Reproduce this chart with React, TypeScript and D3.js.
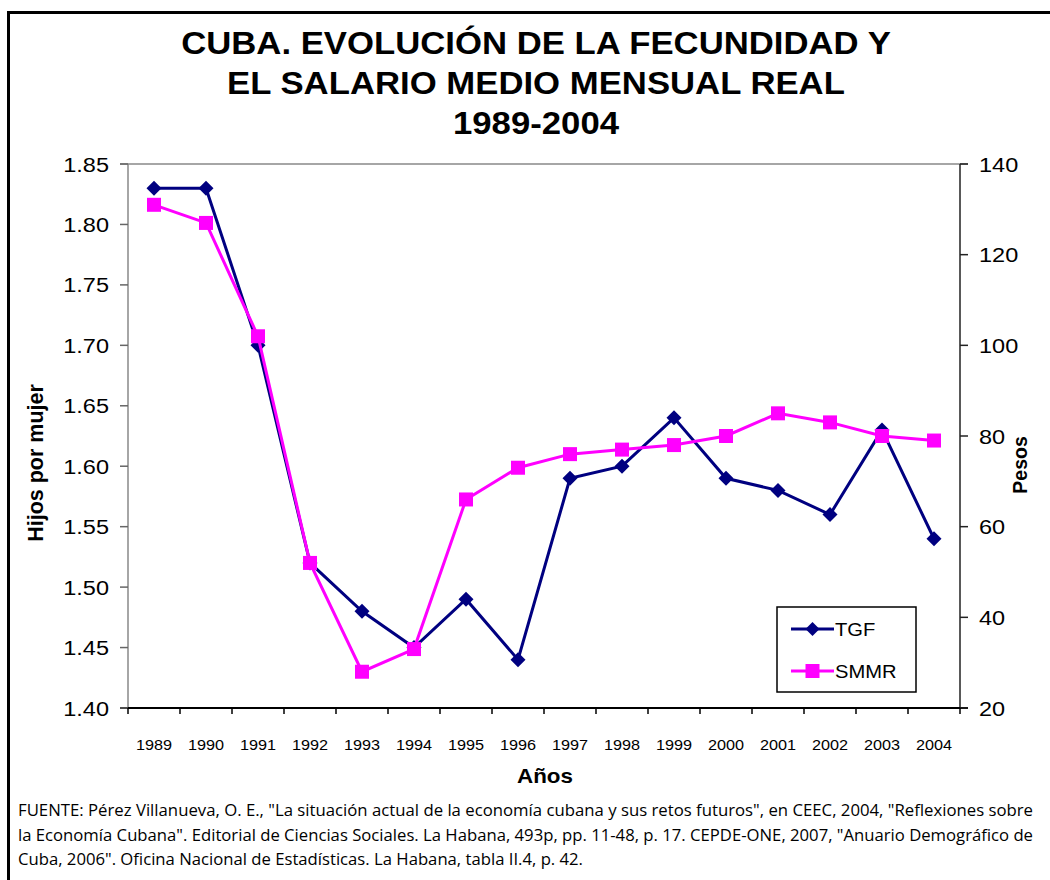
import React from "react";
import * as d3 from "d3";

const years = ["1989","1990","1991","1992","1993","1994","1995","1996","1997","1998","1999","2000","2001","2002","2003","2004"];
const tgf = [1.83,1.83,1.70,1.52,1.48,1.45,1.49,1.44,1.59,1.60,1.64,1.59,1.58,1.56,1.63,1.54];
const smmr = [131,127,102,52,28,33,66,73,76,77,78,80,85,83,80,79];
const leftTicks = [1.40,1.45,1.50,1.55,1.60,1.65,1.70,1.75,1.80,1.85];
const rightTicks = [20,40,60,80,100,120,140];
const titleLines = ["CUBA. EVOLUCIÓN DE LA FECUNDIDAD Y","EL SALARIO MEDIO MENSUAL REAL","1989-2004"];
const sourceLines = [
  "FUENTE: Pérez Villanueva, O. E., \"La situación actual de la economía cubana y sus retos futuros\", en CEEC, 2004, \"Reflexiones sobre",
  "la Economía Cubana\". Editorial de Ciencias Sociales. La Habana, 493p, pp. 11-48, p. 17. CEPDE-ONE,  2007, \"Anuario Demográfico de",
  "Cuba, 2006\". Oficina Nacional de Estadísticas. La Habana, tabla II.4, p. 42.",
];
const sourceWidths = [1015, 1015, 565];
const seriesNames = ["TGF", "SMMR"];

const W = 1050, H = 880;
const L = 128, R = 960, T = 164, B = 708;
const NAVY = "#000080", MAG = "#FF00FF";
const F = "Arial, 'Liberation Sans', sans-serif";
const SX = 1.12;

function Txt(props: { x: number; y: number; size: number; anchor?: string; bold?: boolean; sx?: number; children: React.ReactNode }) {
  const { x, y, size, anchor = "start", bold = false, sx = SX, children } = props;
  return (
    <text transform={`translate(${x},${y}) scale(${sx},1)`} textAnchor={anchor as any} fontFamily={F}
      fontWeight={bold ? "bold" : "normal"} fontSize={size} fill="#000">{children}</text>
  );
}

export default function App() {
  const x = d3.scaleBand<string>().domain(years).range([L, R]);
  const yL = d3.scaleLinear().domain([1.40, 1.85]).range([B, T]);
  const yR = d3.scaleLinear().domain([20, 140]).range([B, T]);
  const cx = (y: string) => (x(y) as number) + x.bandwidth() / 2;
  const lineL = d3.line<number>().x((_, i) => cx(years[i])).y((d) => yL(d));
  const lineR = d3.line<number>().x((_, i) => cx(years[i])).y((d) => yR(d));
  const diamond = (px: number, py: number, s = 7.5) => `M${px},${py - s}L${px + s},${py}L${px},${py + s}L${px - s},${py}Z`;
  const boundaries = years.map((y) => x(y) as number).concat([R]);

  return (
    <div style={{ position: "absolute", left: 0, top: 0 }}>
      <svg width={W} height={H} style={{ display: "block", background: "#fff" }}>
        <rect x={0} y={0} width={W} height={H} fill="#fff" />
        <rect x={8.5} y={12.5} width={W + 20} height={H + 20} fill="none" stroke="#000" strokeWidth={3} />
        {titleLines.map((t, i) => (
          <Txt key={i} x={536} y={54 + i * 40} size={31} anchor="middle" bold>{t}</Txt>
        ))}
        {/* plot frame */}
        <line x1={L - 8} x2={R + 8} y1={T} y2={T} stroke="#888" strokeWidth={1.5} />
        <line x1={L} x2={L} y1={T} y2={B} stroke="#888" strokeWidth={1.5} />
        <line x1={R} x2={R} y1={T} y2={B} stroke="#222" strokeWidth={1.5} />
        <line x1={L - 8} x2={R + 8} y1={B} y2={B} stroke="#000" strokeWidth={2} />
        {leftTicks.map((v) => (
          <g key={v}>
            <line x1={L - 8} x2={L} y1={yL(v)} y2={yL(v)} stroke="#666" strokeWidth={1.5} />
            <Txt x={109} y={yL(v) + 7.5} size={21} anchor="end">{v.toFixed(2)}</Txt>
          </g>
        ))}
        {rightTicks.map((v) => (
          <g key={v}>
            <line x1={R} x2={R + 8} y1={yR(v)} y2={yR(v)} stroke="#222" strokeWidth={1.5} />
            <Txt x={979} y={yR(v) + 7.5} size={21}>{v}</Txt>
          </g>
        ))}
        {boundaries.map((bx, i) => (
          <line key={i} x1={bx} x2={bx} y1={B} y2={B + 6} stroke="#000" strokeWidth={1.5} />
        ))}
        {years.map((y) => (
          <Txt key={y} x={cx(y)} y={750} size={14.5} anchor="middle">{y}</Txt>
        ))}
        <text transform={`translate(43,463) rotate(-90)`} textAnchor="middle" fontFamily={F} fontWeight="bold" fontSize={21.5} fill="#000">Hijos por mujer</text>
        <text transform={`translate(1027,465) rotate(-90)`} textAnchor="middle" fontFamily={F} fontWeight="bold" fontSize={19.5} fill="#000">Pesos</text>
        <Txt x={545} y={783} size={20} anchor="middle" bold>Años</Txt>
        {/* series */}
        <path d={lineL(tgf) as string} fill="none" stroke={NAVY} strokeWidth={3} />
        {tgf.map((v, i) => (
          <path key={i} d={diamond(cx(years[i]), yL(v))} fill={NAVY} />
        ))}
        <path d={lineR(smmr) as string} fill="none" stroke={MAG} strokeWidth={3} />
        {smmr.map((v, i) => (
          <rect key={i} x={cx(years[i]) - 7} y={yR(v) - 7} width={14} height={14} fill={MAG} />
        ))}
        {/* legend */}
        <rect x={777} y={607} width={139} height={85} fill="#fff" stroke="#000" strokeWidth={1.5} />
        <line x1={791} x2={834} y1={629} y2={629} stroke={NAVY} strokeWidth={3} />
        <path d={diamond(812.5, 629, 7)} fill={NAVY} />
        <Txt x={835} y={636} size={18}>{seriesNames[0]}</Txt>
        <line x1={791} x2={834} y1={671} y2={671} stroke={MAG} strokeWidth={3} />
        <rect x={805.5} y={664} width={14} height={14} fill={MAG} />
        <Txt x={835} y={678} size={18}>{seriesNames[1]}</Txt>
        {/* source */}
        {sourceLines.map((s, i) => (
          <text key={i} x={18} y={816 + i * 24.5} fontFamily="'Open Sans', sans-serif" fontSize={15.5} fill="#000"
            textLength={sourceWidths[i]} lengthAdjust="spacingAndGlyphs">{s}</text>
        ))}
      </svg>
    </div>
  );
}
